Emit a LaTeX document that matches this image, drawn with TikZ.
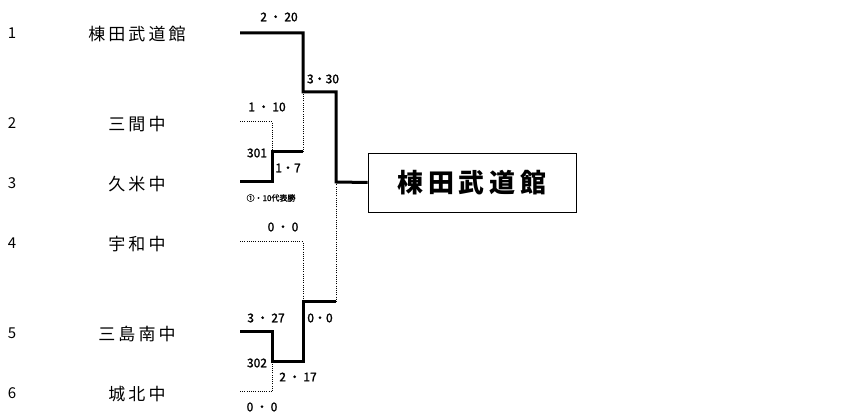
\documentclass[tikz,border=0pt]{standalone}
\usepackage{fontspec}
\setmainfont{Noto Sans CJK JP}
\newfontfamily\teamfont{Noto Sans CJK JP}[LetterSpace=18]
\newfontfamily\scorefont{Noto Sans CJK JP}[FakeBold=1.6]
\usetikzlibrary{positioning}

\begin{document}
\begin{tikzpicture}[
    x=1pt, y=-1pt,
    num/.style={font=\fontsize{15}{15}\selectfont},
    team/.style={font=\teamfont\fontsize{17}{17}\selectfont},
    score/.style={font=\scorefont\fontsize{12}{12}\selectfont, inner sep=0pt},
    note/.style={font=\scorefont\fontsize{8}{8}\selectfont, inner sep=0pt},
    champ/.style={rectangle, draw, line width=0.8pt, minimum width=208pt, minimum height=59pt,
                  font=\teamfont\fontsize{26}{26}\selectfont\bfseries},
    win/.style={line width=3pt, line join=miter},
    lose/.style={line width=1pt, dash pattern=on 1pt off 1.2pt}
  ]
  \useasboundingbox (0,0) rectangle (860,419);

  % entries
  \node[num] (n1) at (12,33) {1};
  \node[num] (n2) at (12,123) {2};
  \node[num] (n3) at (12,183) {3};
  \node[num] (n4) at (12,243) {4};
  \node[num] (n5) at (12,333) {5};
  \node[num] (n6) at (12,393) {6};
  \node[team] (t1) at (137,34) {棟田武道館};
  \node[team] (t2) at (137,124) {三間中};
  \node[team] (t3) at (137,184) {久米中};
  \node[team] (t4) at (137,244) {宇和中};
  \node[team] (t5) at (137,334) {三島南中};
  \node[team] (t6) at (137,394) {城北中};

  \node[champ] (win) at (472,182.5) {棟田武道館};

  % bracket points
  \coordinate (e1) at (240,33);
  \coordinate (e2) at (240,122);
  \coordinate (e3) at (240,182);
  \coordinate (e4) at (240,242);
  \coordinate (e5) at (240,332);
  \coordinate (e6) at (240,392);
  \coordinate (m301) at (272,152);
  \coordinate (m302) at (272,362);
  \coordinate (sfa) at (303,92);
  \coordinate (sfb) at (303,302);
  \coordinate (fin) at (336,182);

  % lines
  \draw[win] (e1) -| (sfa) -- (sfa -| fin) -- (fin) -- (win.west);
  \draw[lose] (e2) -| (m301);
  \draw[win] (e3) -| (m301) -- (m301 -| sfa);
  \draw[lose] (m301 -| sfa) -- (sfa);
  \draw[lose] (e4) -| (sfb);
  \draw[win] (e5) -| (m302) -- (m302 -| sfb) -- (sfb) -- (sfb -| fin);
  \draw[lose] (sfb -| fin) -- (fin);
  \draw[lose] (e6) -| (m302);

  % scores
  \node[score] (s1) at (279,17) {2 ・ 20};
  \node[score] (s2) at (323,79) {3・30};
  \node[score] (s3) at (267,107) {1 ・ 10};
  \node[score] (s4) at (257,153) {301};
  \node[score] (s5) at (288,168) {1・7};
  \node[note] (s6) at (271,198) {①・10代表勝};
  \node[score] (s7) at (283,227) {0 ・ 0};
  \node[score] (s8) at (266,318) {3 ・ 27};
  \node[score] (s9) at (320,318) {0・0};
  \node[score] (s10) at (257,363) {302};
  \node[score] (s11) at (298,377) {2 ・ 17};
  \node[score] (s12) at (262,407) {0 ・ 0};
\end{tikzpicture}
\end{document}
